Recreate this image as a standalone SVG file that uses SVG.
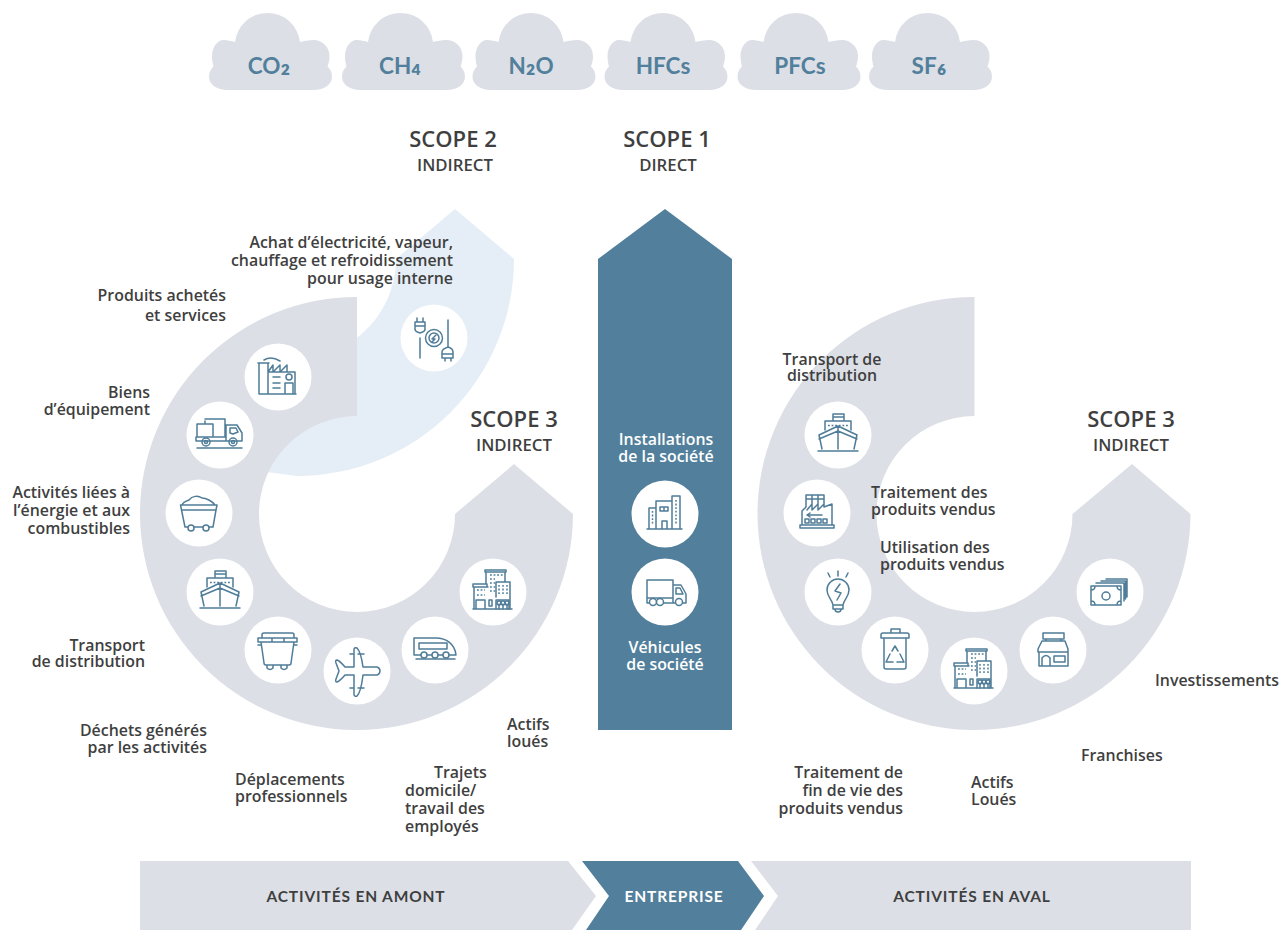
<svg xmlns="http://www.w3.org/2000/svg" width="1281" height="930" viewBox="0 0 1281 930">
<style>
.g{fill:#dcdfe6}.b{fill:#527f9b}.w{fill:#fff}
.i{fill:none;stroke:#4f7c98;stroke-width:1.5;stroke-linejoin:round;stroke-linecap:round}
.d{stroke-dasharray:1.8 1.8;stroke-linecap:butt}
text{font-family:"Open Sans","Noto Sans",sans-serif;font-weight:600;font-size:15.9px;fill:#3f3f3f}
.r{text-anchor:end}.c{text-anchor:middle}
.s{font-size:22px;font-weight:600}.t{font-size:16.8px}
.wt{fill:#fff}
.cl{font-family:Lato,"Open Sans",sans-serif;font-weight:700;font-size:22.5px;fill:#527f9b;text-anchor:middle}
.su{font-size:29px}
.bar{font-family:Lato,"Open Sans",sans-serif;font-weight:700;font-size:15.5px;letter-spacing:.85px;text-anchor:middle}
</style>
<defs>
<path id="cloud" class="g" d="M-43,90H43C54,90 61.5,84 61.5,77C61.5,72 59.5,69 57,66.500C58.500,63 59,59 59,56C59,47 52,40 43,40C38,40 34,41 29.500,42A32.700,32.700 0 0 0-35.500,42C-39,41 -43,40 -47,40C-53,40 -58.500,47 -58.500,56C-58.500,60 -58,63 -57,66.500C-59.500,69 -61.500,72 -61.500,77C-61.500,84 -54,90 -43,90Z"/>
<g id="ship" class="i"><path d="M-20,16H20M-16,14L-19,0L0,-9L19,0L16,14M-19,4L0,-4L19,4M0,-9V14M-13,-5V-14H13V-5M-5,-14V-21H6V-14M-5,-18H6"/><path class="d" d="M-10,-9.500H11"/></g>
<g id="tower" class="i"><path d="M-20,17H19M-19,17V-5H-5M-20,-5V-8H-6V-5M-7,-8V-20H12V-10M-8,-20V-22H13V-20M3,5V-10H17V17M-17,17V8H-8V17"/><path d="M-4,8H-1V14H-4ZM3,17V8H16V17"/><path class="d" d="M-3,-17H10M-3,-13H2M-3,-9H2M-3,-5H2M-3,-1H2M-16,-2H-8M-16,3H-8M6,-7V3M10,-7V3M14,-7V3"/><path d="M6,17V12M10,17V12M14,17V12"/><circle cx="6" cy="11" r="2"/><circle cx="10" cy="11" r="2"/><circle cx="14" cy="11" r="2"/></g>
</defs>

<g id="connectors">
<path id="scope2-arrow" fill="#e5eef6" d="M455,209L514,259A217,217 0 0 1 297,476L240,468.400L280,356.500A99,99 0 0 0 396,259Z"/>
<path id="scope3-upstream-arrow" class="g" d="M357,297A216.500,216.500 0 1 0 573,514L514,464L455,514A98,98 0 1 1 357,416Z"/>
<path id="scope3-downstream-arrow" class="g" d="M974.500,297A216.500,216.500 0 1 0 1190.500,514L1132,464L1072.500,514A98,98 0 1 1 974.500,416Z"/>
<path id="scope1-arrow" class="b" d="M665,209L732,259V730H598V259Z"/>
</g>

<g id="cloud-co2"><use href="#cloud" x="270.500"/><text class="cl" x="269" y="74">CO<tspan class="su" dy="-2.500">₂</tspan></text></g>
<g id="cloud-ch4"><use href="#cloud" x="403.500"/><text class="cl" x="400" y="74">CH<tspan class="su" dy="-2.500">₄</tspan></text></g>
<g id="cloud-n2o"><use href="#cloud" x="534"/><text class="cl" x="531" y="74">N<tspan class="su" dy="-2.500">₂</tspan><tspan dy="2.500">O</tspan></text></g>
<g id="cloud-hfcs"><use href="#cloud" x="666"/><text class="cl" x="663" y="74">HFCs</text></g>
<g id="cloud-pfcs"><use href="#cloud" x="799"/><text class="cl" x="800" y="74">PFCs</text></g>
<g id="cloud-sf6"><use href="#cloud" x="930.500"/><text class="cl" x="929" y="74">SF<tspan class="su" dy="-2.500">₆</tspan></text></g>

<g id="scope2-title"><text class="s c" x="453" y="147">SCOPE 2</text><text class="t c" x="455" y="171">INDIRECT</text></g>
<g id="scope1-title"><text class="s c" x="667" y="147">SCOPE 1</text><text class="t c" x="668" y="171">DIRECT</text></g>
<g id="scope3-up-title"><text class="s c" x="514" y="427">SCOPE 3</text><text class="t c" x="514" y="451">INDIRECT</text></g>
<g id="scope3-down-title"><text class="s c" x="1131" y="427">SCOPE 3</text><text class="t c" x="1131" y="451">INDIRECT</text></g>

<g id="node-electricite" transform="translate(434,338)"><circle class="w" r="33.500"/><g class="i"><path d="M-14,0V20M-19,-16H-9V-9C-9,-6 -11,-6 -14,-5C-17,-6 -19,-6 -19,-9ZM-17,-16V-20M-11,-16V-20M-19,-12H-9M14,-18V9M8,20V14C8,11 11,10 14,9C17,10 19,11 19,14V20ZM11,20V23M17,20V23M8,16H19"/><circle r="8.500"/><circle r="5"/><path d="M2,-3L-2,1H1L-2,4"/></g></g>
<g id="label-electricite"><text class="r" x="453" y="248">Achat d’électricité, vapeur,</text><text class="r" x="453" y="266">chauffage et refroidissement</text><text class="r" x="453" y="284">pour usage interne</text></g>

<g id="node-produits" transform="translate(278,377)"><circle class="w" r="33.500"/><g class="i"><path d="M-19,17H18M-19,17V-14H-10V17M-20,-14H-9M-10,-5L-5,-12V-5L2,-12V-5L9,-12V-5L17,-5V17M-10,-5H10M-14,-17C-9,-20 -3,-19 2,-16M7,17V6H15V17M-5,0H2M-5,6H2M-5,11H2"/><circle cx="11" cy="0" r="3"/></g></g>
<g id="label-produits"><text class="r" x="226" y="301">Produits achetés</text><text class="r" x="226" y="321">et services</text></g>

<g id="node-biens" transform="translate(220,435)"><circle class="w" r="33.500"/><g class="i"><path d="M-23,13H22M-24,2H6V6H-24ZM-23,1V-11H-7V1M-15,-11V-14M-15,-16H5V2M6,3V-10H17L22,-2V6H6M10,-7H16L18,-3L13,-1L10,-2Z"/><circle cx="-14" cy="7" r="4"/><circle cx="13" cy="7" r="4"/><circle cx="-14" cy="7" r="1.500"/><circle cx="13" cy="7" r="1.500"/></g></g>
<g id="label-biens"><text class="r" x="150" y="398">Biens</text><text class="r" x="150" y="415">d’équipement</text></g>

<g id="node-energie" transform="translate(199,513)"><circle class="w" r="33.500"/><g class="i"><path d="M-18.500,-8H18L17,-3H-17.500ZM-17.500,-3L-14,14H14L17,-3M-17,-8C-16,-11 -13,-12 -10,-13C-7,-17 -1,-18 3,-15C7,-15 13,-12 16,-8"/><circle class="w" cx="-8" cy="15" r="3"/><circle class="w" cx="7" cy="15" r="3"/></g></g>
<g id="label-energie"><text class="r" x="130" y="498">Activités liées à</text><text class="r" x="130" y="516">l’énergie et aux</text><text class="r" x="130" y="534">combustibles</text></g>

<g id="node-transport-up" transform="translate(220,592)"><circle class="w" r="33.500"/><use href="#ship"/></g>
<g id="label-transport-up"><text class="r" x="145" y="651">Transport</text><text class="r" x="145" y="667">de distribution</text></g>

<g id="node-dechets" transform="translate(278,650)"><circle class="w" r="33.500"/><g class="i"><path d="M-16,-12V-15Q-16,-17 -14,-17H14Q16,-17 16,-15V-12M-20,-12H19V-8H-20ZM-17,-8L-14,13Q-14,15 -12,15H11Q13,15 13,13L16,-8M-20,-5H-17M16,-5H19M-6,-12V-8M6,-12V-8M-11,15V18Q-8,21 -5,18V15M3,15V18Q6,21 9,18V15"/></g></g>
<g id="label-dechets"><text class="r" x="207" y="736">Déchets générés</text><text class="r" x="207" y="753">par les activités</text></g>

<g id="node-deplacements" transform="translate(357,671)"><circle class="w" r="33.500"/><g class="i"><path d="M-3,-4V-22Q-2,-24 0,-23Q4,-19 6,-4H20Q23,-3 23,0Q23,3 20,4H6Q4,21 0,25Q-2,26 -3,24V4H-12Q-17,10 -20,11Q-22,11 -21,8L-18,0L-21,-8Q-22,-11 -20,-11Q-17,-10 -12,-4ZM-7,-17H-3M1,-17H7M-7,17H-3M1,17H7"/></g></g>
<g id="label-deplacements"><text x="235" y="785">Déplacements</text><text x="235" y="802">professionnels</text></g>

<g id="node-trajets" transform="translate(435,650)"><circle class="w" r="33.500"/><g class="i"><path d="M-21,5V-12H1C11,-12 20,-6 21,5ZM-16,-7H12V-1H-16ZM-19,9H20"/><circle class="w" cx="-11" cy="5" r="3"/><circle class="w" cx="0" cy="5" r="3"/><circle class="w" cx="11" cy="5" r="3"/></g></g>
<g id="label-trajets"><text x="434" y="778">Trajets</text><text x="405" y="796">domicile/</text><text x="405" y="814">travail des</text><text x="405" y="832">employés</text></g>

<g id="node-actifs-up" transform="translate(493,592)"><circle class="w" r="33.500"/><use href="#tower"/></g>
<g id="label-actifs-up"><text x="507" y="730">Actifs</text><text x="507" y="747">loués</text></g>

<g id="node-installations" transform="translate(665,514)"><circle class="w" r="33.500"/><g class="i"><path d="M-18,15H17M-16,15V-6H-9M-9,15V-13H7V15M7,-18H15V15M7,-18V-13M-3,15V7H2V15M-5,-7H3V-3H-5ZM-1,-7V-3"/><path class="d" d="M-12.500,-3V11M11,-14V11"/></g></g>
<g id="label-installations"><text class="c wt" x="666" y="445">Installations</text><text class="c wt" x="666" y="462">de la société</text></g>

<g id="node-vehicules" transform="translate(665,592)"><circle class="w" r="33.500"/><g class="i"><path d="M-18,11V-12H8V11M-18,6H8M8,-7H16L21,2V11H-18M11,-4H15L18,2H11Z"/><circle class="w" cx="-12" cy="10" r="3.500"/><circle class="w" cx="-5" cy="10" r="3.500"/><circle class="w" cx="14" cy="10" r="3.500"/></g></g>
<g id="label-vehicules"><text class="c wt" x="665" y="653">Véhicules</text><text class="c wt" x="665" y="670">de société</text></g>

<g id="node-transport-down" transform="translate(838,435)"><circle class="w" r="33.500"/><use href="#ship"/></g>
<g id="label-transport-down"><text class="c" x="832" y="365">Transport de</text><text class="c" x="832" y="381">distribution</text></g>

<g id="node-traitement" transform="translate(817,513)"><circle class="w" r="33.500"/><g class="i"><path d="M-17,15H17V12H-17ZM-15,12V-2L-11,-6V-18H-5V-9M-5,-18H1V-9M1,-18H7V-9M7,-18V-6L15,-9V12M-11,-14H7M-10,-3L-5,-9V-3L1,-9V-3L7,-9M-10,2H5M-7,0L-10,2L-7,4"/><path d="M-12,6H-8V10H-12ZM-6,6H-2V10H-6ZM0,6H4V10H0ZM6,6H10V10H6Z"/></g></g>
<g id="label-traitement"><text x="871" y="498">Traitement des</text><text x="871" y="515">produits vendus</text></g>

<g id="node-utilisation" transform="translate(838,592)"><circle class="w" r="33.500"/><g class="i"><path d="M-5,13C-6,7 -11,5 -11,-2A11,11 0 0 1 11,-2C11,5 6,7 5,13ZM-5,13V17H5V13M-3,17C-3,21 3,21 3,17M2,-8L-3,-1L3,1L-1,8M0,-16V-21M-8,-15L-10,-19M8,-15L10,-19"/></g></g>
<g id="label-utilisation"><text x="880" y="553">Utilisation des</text><text x="880" y="570">produits vendus</text></g>

<g id="node-fin-de-vie" transform="translate(895,650)"><circle class="w" r="33.500"/><g class="i"><path d="M-14,-12V-15Q-14,-17 -12,-17H12Q14,-17 14,-15V-12ZM-4,-17V-21H5V-17M-11,-12V17Q-11,19 -9,19H9Q11,19 11,17V-12M-3,1L0,-4L3,1M5,4L9,12H2M-2,12H-9L-5,4"/></g></g>
<g id="label-fin-de-vie"><text class="r" x="903" y="778">Traitement de</text><text class="r" x="903" y="796">fin de vie des</text><text class="r" x="903" y="814">produits vendus</text></g>

<g id="node-actifs-down" transform="translate(974,671)"><circle class="w" r="33.500"/><use href="#tower"/></g>
<g id="label-actifs-down"><text x="971" y="788">Actifs</text><text x="971" y="805">Loués</text></g>

<g id="node-franchises" transform="translate(1053,650)"><circle class="w" r="33.500"/><g class="i"><path d="M-10,-17H11V-11H-10ZM-7,-11V-9M8,-11V-9M-11,-9H12L15,-1V2H-15V-1ZM-14,2V16H15V2M-11,16V8Q-7,3 -3,8V16M1,6H12V12H1Z"/></g></g>
<g id="label-franchises"><text x="1081" y="761">Franchises</text></g>

<g id="node-investissements" transform="translate(1110,592)"><circle class="w" r="33.500"/><g class="i"><path d="M-19,-6H11V13H-19ZM-14,-9H14V9M-9,-11H15.500V7M-4,-13H17V5M-19,-2Q-15,-2 -15,-6M7,-6Q7,-2 11,-2M-19,9Q-15,9 -15,13M11,9Q7,9 7,13"/><circle cx="-4" cy="4" r="4"/></g></g>
<g id="label-investissements"><text x="1155" y="686">Investissements</text></g>

<g id="band-amont"><path class="g" d="M140,861H568L596,896L572,930H140Z"/><text class="bar" x="356" y="902">ACTIVITÉS EN AMONT</text></g>
<g id="band-entreprise"><path class="b" d="M582,861H738L764,896L741,930H586L609,896Z"/><text class="bar wt" x="674" y="902" style="fill:#fff">ENTREPRISE</text></g>
<g id="band-aval"><path class="g" d="M751,861H1191V930H755L778,896Z"/><text class="bar" x="972" y="902">ACTIVITÉS EN AVAL</text></g>
</svg>
